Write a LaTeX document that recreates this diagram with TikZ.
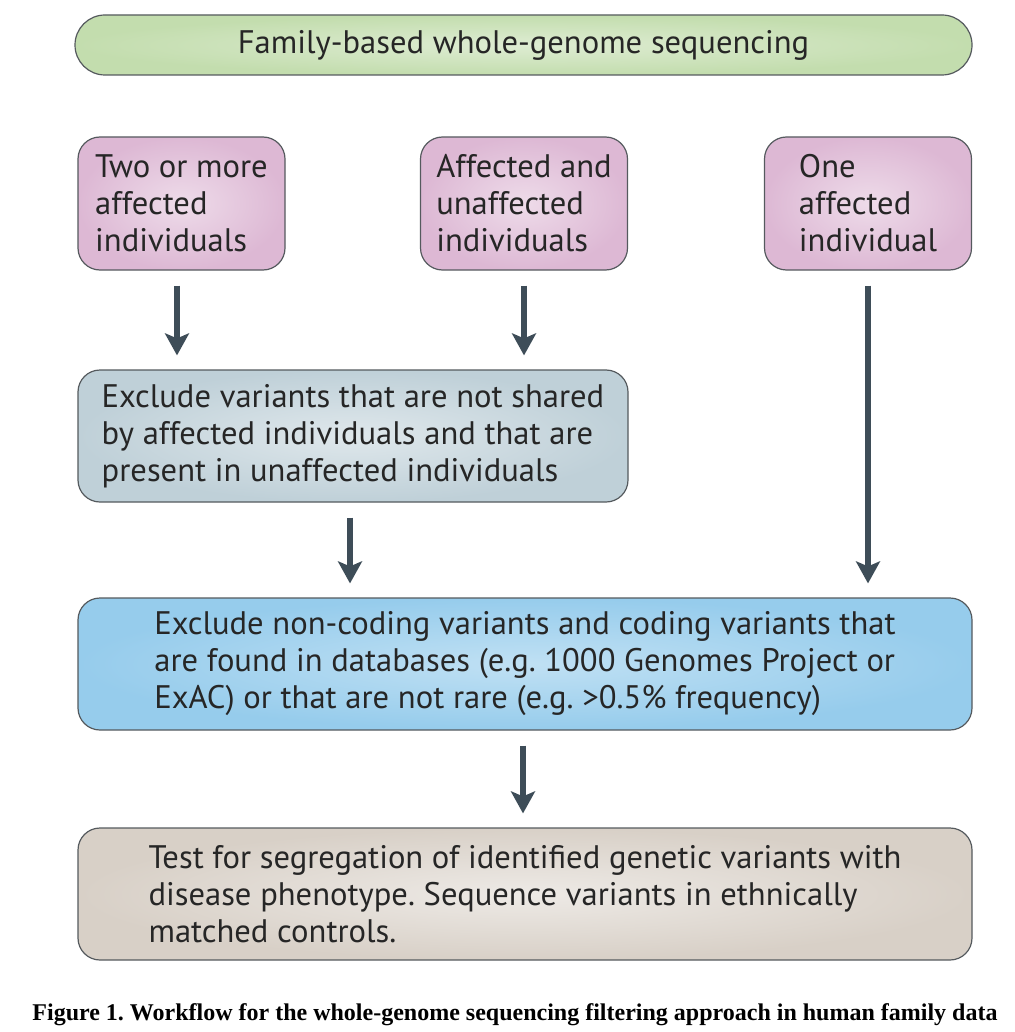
\documentclass[tikz,border=0pt]{standalone}
\usepackage{fontspec}
\usepackage{tikz}
\usetikzlibrary{arrows.meta,shapes}
\newfontfamily\boxfont{PT Sans}
\newfontfamily\capfont{Liberation Serif}
\definecolor{pillgreen}{HTML}{C3DDAE}
\definecolor{casepink}{HTML}{DDB8D4}
\definecolor{filtgrey}{HTML}{BFD0D8}
\definecolor{filtblue}{HTML}{96CCEC}
\definecolor{testbeige}{HTML}{D8D0C7}
\definecolor{edgegrey}{HTML}{555A5E}
\definecolor{arrowslate}{HTML}{3E4D58}
\frenchspacing

\begin{document}
\begin{tikzpicture}[x=0.5pt,y=-0.5pt]
\tikzstyle{box} = [draw=edgegrey, line width=0.6pt, rounded corners=11pt, font=\boxfont\fontsize{16.3}{18.5}\selectfont, text=black!85, align=left, inner sep=0pt]
\tikzstyle{casebox} = [box, inner color=casepink!50!white, outer color=casepink, minimum width=103.5pt, minimum height=66.5pt]
\tikzstyle{widebox} = [box, minimum width=447pt, minimum height=66pt]
\tikzstyle{flow} = [-{Stealth[width=12pt,length=11pt,inset=2.5pt]}, line width=3pt, draw=arrowslate, shorten <=7.5pt, shorten >=7pt]
\useasboundingbox (0,0) rectangle (1014,1032);

% top banner
\node[box, inner color=pillgreen!55!white, outer color=pillgreen, rounded corners=15pt, minimum width=448.5pt, minimum height=30pt] (wgs) at (523.5,45) {Family-based whole-genome sequencing};

% family cases
\node[casebox] (twoaff) at (181.5,203.5) {Two or more\\affected\\individuals};
\node[casebox] (affunaff) at (524,203.5) {Affected and\\unaffected\\individuals};
\node[casebox] (oneaff) at (868,203.5) {One\\affected\\individual};

% filters
\node[box, inner color=filtgrey!50!white, outer color=filtgrey, minimum width=275pt, minimum height=66pt] (shared) at (353,436)
  {Exclude variants that are not shared\\by affected individuals and that are\\present in unaffected individuals};
\node[widebox, inner color=filtblue!60!white, outer color=filtblue] (rare) at (525,664)
  {Exclude non-coding variants and coding variants that\\are found in databases (e.g. 1000 Genomes Project or\\ExAC) or that are not rare (e.g. >0.5\% frequency)};
\node[widebox, inner color=testbeige!45!white, outer color=testbeige] (segr) at (525,894)
  {Test for segregation of identified genetic variants with\\disease phenotype. Sequence variants in ethnically\\matched controls.};

\draw[flow] ([xshift=-2.25pt]twoaff.south) -- ([xshift=-2.25pt]twoaff.south |- shared.north);
\draw[flow] (affunaff.south) -- (affunaff.south |- shared.north);
\draw[flow] (oneaff.south) -- (oneaff.south |- rare.north);
\draw[flow] ([xshift=-1.5pt]shared.south) -- ([xshift=-1.5pt]shared.south |- rare.north);
\draw[flow] ([xshift=-1pt]rare.south) -- ([xshift=-1pt]segr.north);

% caption
\node[font=\capfont\bfseries\fontsize{12}{14}\selectfont] (caption) at (515,1015)
  {Figure 1. Workflow for the whole-genome sequencing filtering approach in human family data};
\end{tikzpicture}
\end{document}
